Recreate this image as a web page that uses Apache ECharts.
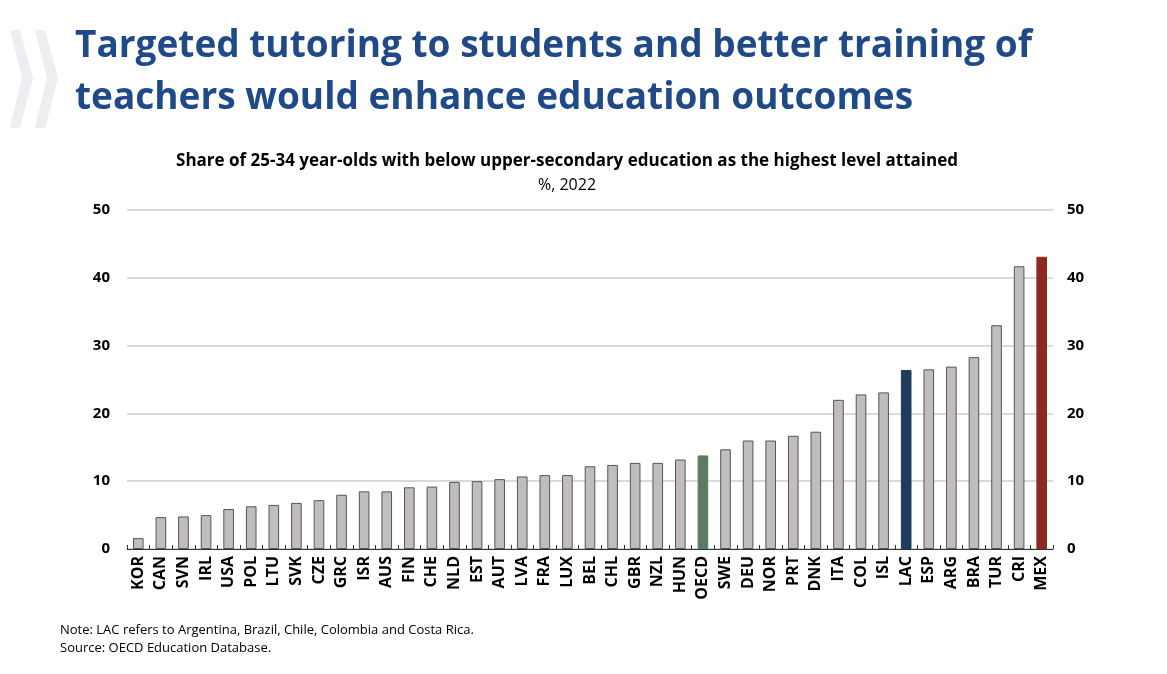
<!DOCTYPE html>
<html>
<head>
<meta charset="utf-8">
<script src="https://cdn.jsdelivr.net/npm/echarts@6/dist/echarts.min.js"></script>
<style>
html,body{margin:0;padding:0;background:#fff;}
#c{width:1167px;height:674px;}
</style>
</head>
<body>
<div id="c"></div>
<script>
const categories = ['KOR','CAN','SVN','IRL','USA','POL','LTU','SVK','CZE','GRC','ISR','AUS','FIN','CHE','NLD','EST','AUT','LVA','FRA','LUX','BEL','CHL','GBR','NZL','HUN','OECD','SWE','DEU','NOR','PRT','DNK','ITA','COL','ISL','LAC','ESP','ARG','BRA','TUR','CRI','MEX'];
const values = [1.6,4.7,4.8,5.0,5.9,6.3,6.5,6.8,7.2,8.0,8.5,8.5,9.1,9.2,9.9,10.0,10.3,10.7,10.9,10.9,12.2,12.4,12.7,12.7,13.2,13.8,14.7,16.0,16.0,16.7,17.3,22.0,22.8,23.1,26.4,26.5,26.9,28.3,33.0,41.7,43.1];
const highlight = {OECD:'#5b7b60', LAC:'#1f3c5c', MEX:'#8c2a22'};
const yTicks = [0,10,20,30,40,50];

const chart = echarts.init(document.getElementById('c'));
const axisLabelY = {color:'#000', fontWeight:'bold', fontSize:15, fontFamily:'Open Sans, sans-serif'};
chart.setOption({
  animation:false,
  textStyle:{fontFamily:'Open Sans, sans-serif'},
  title:[
    {text:'Targeted tutoring to students and better training of\nteachers would enhance education outcomes', left:75, top:20, padding:0,
     textStyle:{color:'#1f4a87', fontSize:37, fontWeight:'bold', fontFamily:'Open Sans, sans-serif', lineHeight:52}},
    {text:'Share of 25-34 year-olds with below upper-secondary education as the highest level attained', left:567, top:153, padding:0, textAlign:'center',
     textStyle:{color:'#000', fontSize:17, fontWeight:'bold', fontFamily:'Open Sans, sans-serif'}},
    {text:'%, 2022', left:567, top:177, padding:0, textAlign:'center',
     textStyle:{color:'#000', fontSize:16, fontWeight:'normal', fontFamily:'Open Sans, sans-serif'}},
    {text:'Note: LAC refers to Argentina, Brazil, Chile, Colombia and Costa Rica.\nSource: OECD Education Database.', left:60, top:621, padding:0,
     textStyle:{color:'#000', fontSize:13, fontWeight:'normal', fontFamily:'Open Sans, sans-serif', lineHeight:18}}
  ],
  graphic:[
    {type:'polygon', shape:{points:[[10,30],[20,30],[33,78],[20,128],[10,128],[22,78]]}, style:{fill:'#eceef2'}},
    {type:'polygon', shape:{points:[[35,30],[45,30],[58,78],[45,128],[35,128],[47,78]]}, style:{fill:'#eceef2'}}
  ],
  grid:{left:127, right:114, top:210, bottom:125},
  xAxis:{type:'category', data:categories,
    axisLine:{lineStyle:{color:'#333', width:1}},
    axisTick:{show:true, inside:true, length:4, alignWithLabel:false, lineStyle:{color:'#333'}},
    axisLabel:{rotate:90, color:'#000', fontWeight:'bold', fontSize:16, margin:7, interval:0, fontFamily:'Open Sans, sans-serif'}},
  yAxis:[
    {type:'value', min:0, max:50, interval:10, position:'left',
     axisLabel:Object.assign({margin:17}, axisLabelY),
     axisLine:{show:false}, axisTick:{show:false},
     splitLine:{lineStyle:{color:'#d9d9d9', width:2}}},
    {type:'value', min:0, max:50, interval:10, position:'right',
     axisLabel:Object.assign({margin:14}, axisLabelY),
     axisLine:{show:false}, axisTick:{show:false}, splitLine:{show:false}}
  ],
  series:[{
    type:'bar', barWidth:'47%',
    data:values.map((v,i)=>{
      const c = highlight[categories[i]];
      return {value:v, itemStyle:c ? {color:c, borderColor:c, borderWidth:1} : {color:'#c1bdbd', borderColor:'#555', borderWidth:1}};
    })
  }]
});
</script>
</body>
</html>
